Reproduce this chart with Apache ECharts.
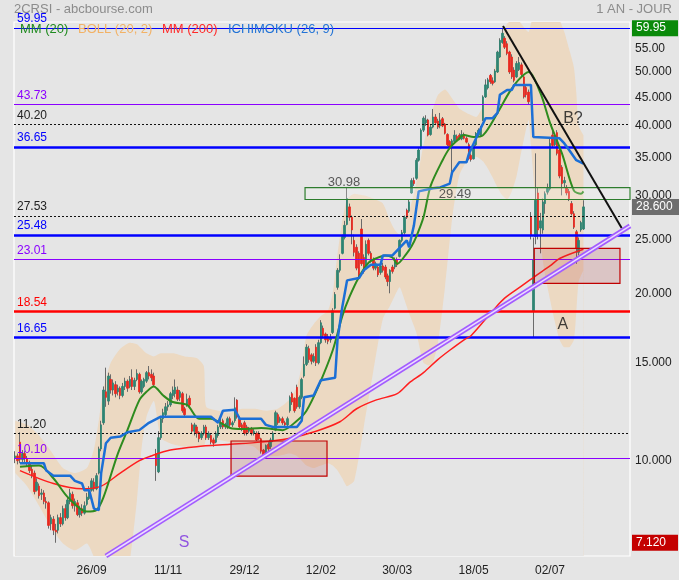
<!DOCTYPE html>
<html><head><meta charset="utf-8">
<script src="https://cdn.jsdelivr.net/npm/echarts@6/dist/echarts.min.js"></script>
<style>html,body{margin:0;padding:0;background:#e5e5e5;}#c{width:679px;height:580px;}</style>
</head><body><div id="c"></div>
<script>
const N = 258;
const tickIdx = [32,64,96,128,160,192,224];
const tickLabels = ['26/09','11/11','29/12','12/02','30/03','18/05','02/07'];

const opens = [
10.1,10.2,10.8,10.05,10.3,10.1,9.9,9.65,9.5,8.85,
9.0,8.7,8.75,8.45,8.4,7.7,7.85,7.5,7.5,7.9,
7.7,8.2,7.9,8.45,8.7,8.3,8.4,8.0,8.2,8.05,
8.35,8.55,8.85,9.15,8.9,9.5,10.5,11.7,13.3,12.8,
14.0,13.4,13.7,13.3,13.5,13.1,13.6,13.9,13.6,14.1,
13.6,14.0,14.3,13.3,13.6,13.9,14.4,14.3,14.2,10.3,
9.55,11.0,11.9,12.1,12.5,12.6,13.1,13.2,13.4,13.0,
13.2,12.4,12.6,12.95,11.6,11.3,11.5,11.25,11.0,11.2,
11.5,11.0,11.1,10.9,10.8,11.1,11.5,11.8,11.5,11.5,
11.9,11.6,11.8,12.85,11.9,11.6,11.7,11.5,11.3,11.4,
11.2,11.2,11.2,10.95,10.45,10.15,10.7,10.6,10.9,11.35,
12.1,11.8,11.9,11.7,11.6,12.3,13.2,12.95,13.55,12.5,
13.0,14.2,14.9,15.9,15.5,15.1,16.0,15.0,16.3,17.3,
16.9,16.7,16.5,17.0,18.8,20.5,22.0,23.6,25.2,26.6,
28.6,27.4,24.9,24.2,23.6,26.1,23.2,22.5,24.9,23.6,
23.0,22.2,22.3,21.8,22.4,22.3,21.5,21.0,22.3,22.3,
23.0,23.3,24.9,25.7,28.2,28.1,30.3,31.9,32.2,34.7,
36.5,39.3,40.5,41.0,38.6,39.8,41.5,40.8,40.0,41.2,
40.3,38.6,37.5,36.8,37.5,38.3,38.5,37.9,38.6,38.0,
37.0,35.4,34.9,37.0,38.5,38.4,41.0,45.1,46.8,49.3,
48.2,48.0,50.0,53.2,56.5,57.5,56.2,54.3,53.2,50.4,
49.0,50.5,51.5,49.0,46.9,46.0,27.4,18.6,25.3,30.3,
26.2,26.0,29.0,30.4,30.8,38.5,37.0,38.9,36.2,33.7,
31.6,31.0,30.5,29.0,27.8,25.8,23.7,26.0,26.1
];
const closes = [
10.2,10.0,10.05,10.3,10.1,9.9,9.6,9.4,8.8,9.15,
8.65,8.75,8.45,8.4,7.65,7.9,7.5,7.45,7.9,7.7,
8.2,7.9,8.5,8.75,8.3,8.45,8.0,8.2,8.05,8.3,
8.6,8.85,9.2,8.9,9.4,10.5,11.6,13.4,13.0,14.2,
13.4,13.8,13.2,13.5,13.1,13.6,13.9,13.5,14.0,13.6,
13.95,14.35,13.3,13.9,14.0,14.4,14.2,14.1,13.7,9.8,
11.0,11.9,12.2,12.5,12.6,13.2,13.4,13.55,12.9,13.3,
12.3,12.1,12.9,12.6,11.3,11.6,11.2,10.95,11.2,11.5,
11.0,11.2,10.8,10.75,11.2,11.5,11.7,11.5,11.6,11.9,
11.6,11.7,12.45,12.0,11.5,11.4,11.2,11.25,11.4,11.2,
11.3,10.9,10.95,10.4,10.15,10.65,10.5,10.9,11.2,12.2,
11.7,11.9,11.7,11.6,11.9,13.0,12.75,12.3,12.5,13.0,
14.0,14.9,16.0,15.2,15.1,15.4,15.0,16.3,17.7,16.8,
16.5,16.4,16.6,18.6,19.9,22.0,23.0,25.3,26.5,29.6,
27.4,26.0,23.7,22.2,21.5,22.6,21.9,24.5,23.6,22.9,
22.2,22.6,21.6,22.4,22.0,21.4,21.0,22.0,21.9,23.0,
22.5,24.9,25.7,27.4,27.4,29.2,31.9,31.5,34.7,36.2,
39.3,41.3,41.0,38.5,39.8,41.5,40.5,39.8,41.0,40.0,
38.8,37.0,36.7,37.6,38.5,37.7,37.9,38.6,38.0,37.4,
34.9,34.8,37.0,38.8,39.3,39.8,45.1,47.4,48.4,48.0,
47.7,50.2,54.3,57.0,58.7,55.4,54.0,50.0,49.0,48.3,
51.8,52.0,49.5,45.1,45.5,44.2,25.4,23.0,29.4,26.0,
27.0,29.2,30.2,30.9,37.2,36.9,38.3,35.7,32.5,31.5,
31.9,30.3,29.6,27.8,26.3,24.1,24.9,26.8,28.6
];
const lows = [
9.9,9.85,9.9,9.95,9.9,9.75,9.5,9.3,8.7,8.8,
8.55,8.5,8.35,8.2,7.55,7.5,7.35,7.12,7.4,7.6,
7.65,7.8,7.85,8.35,8.2,8.1,7.95,7.9,7.95,8.0,
8.3,8.5,8.8,8.8,8.85,9.45,10.4,11.6,12.5,12.6,
13.2,13.1,13.0,13.1,12.9,13.0,13.4,13.3,13.5,13.4,
13.4,13.9,13.2,13.2,13.5,13.8,14.0,13.9,13.6,9.2,
9.5,10.9,11.7,12.0,12.3,12.5,12.9,13.0,12.8,12.8,
12.2,12.0,12.5,12.5,11.2,11.1,11.0,10.8,10.9,11.1,
10.9,10.9,10.7,10.6,10.75,11.0,11.4,11.4,11.4,11.4,
11.5,11.5,11.7,11.9,11.4,11.3,11.1,11.1,11.2,11.1,
11.1,10.85,10.9,10.3,10.1,10.1,10.4,10.5,10.8,11.3,
11.6,11.7,11.6,11.5,11.5,12.2,12.6,12.2,12.4,12.4,
12.9,14.1,14.8,15.0,14.9,15.0,14.8,14.9,16.2,16.6,
16.3,16.2,16.3,16.9,18.7,20.3,21.8,23.5,25.0,26.5,
27.0,24.5,23.3,22.0,21.3,22.4,21.7,22.3,23.4,22.7,
22.0,22.0,21.4,21.6,21.8,21.2,20.6,20.0,21.7,22.1,
22.3,23.2,24.7,25.5,27.2,27.9,30.2,31.2,32.0,34.5,
36.3,39.0,40.0,38.3,38.4,39.6,40.2,39.5,39.6,39.8,
38.6,36.8,36.4,32.9,37.3,37.5,37.7,37.7,37.8,37.2,
34.7,34.5,34.8,36.8,38.2,38.2,40.8,44.9,46.5,47.6,
47.3,47.8,49.8,53.0,56.2,55.0,53.6,49.6,48.6,47.9,
48.8,50.2,49.0,44.8,45.0,43.8,25.0,16.65,24.5,25.0,
23.6,25.6,27.8,30.1,30.6,36.5,36.8,35.4,32.2,30.0,
31.0,30.0,29.3,27.6,26.1,22.6,23.4,25.8,26.0
];
const highs = [
10.4,10.3,11.25,10.45,10.4,10.2,10.0,9.8,9.6,9.3,
9.1,8.9,8.85,8.6,8.45,8.0,7.95,7.7,8.0,8.05,
8.3,8.35,8.6,8.9,8.8,8.55,8.5,8.3,8.35,8.45,
8.75,9.0,9.3,9.3,9.5,10.6,11.8,13.6,14.7,14.4,
14.3,14.0,13.9,13.7,13.6,13.8,14.1,14.0,14.2,14.6,
14.1,14.6,14.4,14.0,14.1,14.5,14.8,14.6,14.4,10.5,
11.3,12.0,12.4,12.7,12.8,13.3,13.6,14.0,13.6,13.4,
13.3,12.5,13.2,13.1,11.7,11.7,11.6,11.3,11.3,11.6,
11.6,11.3,11.2,11.0,11.3,11.6,11.9,11.9,11.7,12.0,
12.0,11.8,13.0,12.9,12.0,11.7,11.8,11.6,11.5,11.5,
11.4,11.3,11.3,11.0,10.5,10.7,10.8,11.0,11.3,12.3,
12.2,12.0,12.0,11.8,12.0,13.1,13.3,13.0,13.7,13.1,
14.1,15.4,16.2,16.1,15.6,15.6,16.2,16.5,17.9,17.5,
17.0,16.9,16.9,18.8,20.1,22.2,23.5,25.5,27.0,30.98,
29.0,27.6,25.5,24.5,23.8,27.2,23.5,24.9,25.1,23.8,
23.2,22.8,22.5,22.6,22.7,22.5,21.7,22.1,22.5,23.2,
23.2,25.0,26.0,27.6,28.4,29.5,32.2,32.3,35.0,36.5,
39.6,41.6,41.8,41.2,40.2,42.9,42.0,41.2,42.2,41.5,
40.5,38.8,37.7,37.9,39.3,38.6,38.8,39.3,38.9,38.3,
37.3,35.7,37.2,39.0,39.6,40.0,45.4,48.5,48.8,49.6,
48.9,50.6,54.6,57.5,59.95,58.0,56.8,54.6,53.8,51.0,
52.3,53.2,52.0,49.5,47.5,46.5,28.0,25.2,35.7,31.0,
27.9,29.6,30.5,31.5,38.0,39.3,38.8,39.3,36.5,34.0,
32.4,31.3,30.8,29.3,28.1,26.0,25.2,27.0,29.4
];

const mm20 = [[2,9.75],[10,9.8],[16,9.3],[22,8.6],[30,8.1],[34,8.15],[37,8.6],[43,10.3],[47,11.35],[52,12.85],[55,13.3],[58,13.6],[62,13.1],[66,12.75],[72,12.6],[77,11.9],[82,11.9],[86,11.7],[90,11.45],[95,11.4],[103,11.45],[112,11.35],[118,11.8],[122,12.3],[127,13.6],[133,15.8],[137,18.2],[140,19.7],[144,21.4],[148,22.7],[151,23.1],[155,23.4],[158,23.2],[160,22.6],[164,23.6],[166,24.3],[168,25.3],[171,27.4],[174,31.2],[179,34.7],[182,36.5],[185,37.6],[188,38.5],[192,38.2],[196,38.5],[202,42.2],[207,46.0],[211,48.5],[215,50.0],[220,45.8],[224,40.5],[229,35.7],[234,30.6],[237,30.2],[238,30.5]];
const mm200 = [[2,9.6],[16,9.1],[28,8.9],[36,9.0],[44,9.5],[52,10.0],[57,10.2],[65,10.45],[76,10.6],[90,10.7],[103,10.8],[114,10.95],[126,11.3],[136,11.75],[143,12.4],[151,12.85],[160,13.2],[165,13.8],[171,14.4],[177,15.2],[182,15.8],[188,16.5],[191,16.8],[200,18.6],[205,19.6],[212,20.6],[218,21.5],[224,22.4],[228,23.1],[238,24.0]];
const kijun = [[2,9.9],[12,9.9],[13,9.6],[16,9.4],[23,9.4],[25,9.2],[28,9.1],[29,8.85],[31,8.85],[33,8.2],[35,8.15],[36,9.5],[38,10.75],[40,11.0],[44,11.05],[47,11.25],[52,11.35],[56,11.7],[61,12.0],[82,12.0],[85,11.7],[87,12.3],[92,12.35],[94,11.9],[103,11.9],[105,11.6],[108,11.5],[118,11.5],[120,11.8],[121,13.0],[125,13.1],[128,13.95],[134,14.1],[135,16.5],[137,18.9],[139,21.1],[144,21.3],[146,22.0],[149,22.5],[153,22.5],[154,23.4],[158,23.4],[160,23.9],[164,24.9],[165,24.2],[167,26.5],[169,30.5],[175,30.9],[178,31.0],[182,31.5],[183,33.0],[186,34.4],[189,34.4],[190,35.6],[194,38.8],[197,41.3],[200,41.3],[202,42.2],[203,45.5],[206,46.4],[208,46.4],[209,47.4],[216,47.4],[217,38.2],[228,38.0],[230,37.2],[232,36.2],[235,34.7],[238,34.2]];
const bollUpper = [[0,11.8],[5,11.6],[10,11.1],[15,10.4],[20,9.7],[25,9.5],[30,9.7],[33,10.5],[35,11.8],[37,13.5],[40,15.0],[44,15.9],[48,16.3],[51,16.2],[53,15.9],[55,15.6],[58,15.4],[61,15.6],[66,15.6],[71,15.4],[76,15.3],[79,14.8],[80,12.5],[85,12.3],[90,12.2],[95,12.4],[100,12.4],[105,12.3],[110,12.4],[115,12.9],[118,13.6],[120,14.8],[122,16.8],[125,17.6],[128,18.2],[131,18.6],[133,20.0],[135,23.5],[137,27.0],[139,29.5],[142,30.2],[146,30.0],[150,29.6],[154,29.0],[157,27.0],[159,26.0],[161,25.5],[163,26.5],[165,28.0],[168,31.5],[171,37.0],[174,41.6],[177,45.4],[180,46.5],[183,44.8],[186,43.0],[190,42.0],[193,41.5],[196,43.5],[198,46.0],[200,49.5],[202,53.0],[204,58.0],[206,61.0],[208,62.0],[210,62.5],[212,61.0],[214,59.5],[215,59.0],[216,61.0],[218,65.0],[220,67.0],[222,67.0],[224,66.0],[226,64.0],[228,62.0],[230,59.0],[232,55.0],[234,51.0],[235,46.0],[236,40.0],[238,38.5]];
const bollLower = [[0,9.5],[5,9.0],[10,8.3],[15,7.6],[20,7.1],[25,6.9],[30,7.1],[33,6.7],[35,6.2],[37,5.8],[40,5.5],[44,5.6],[48,6.6],[51,8.5],[53,10.6],[55,12.0],[58,12.8],[61,11.0],[66,10.7],[71,10.6],[76,10.6],[79,10.6],[80,10.9],[85,10.9],[90,10.8],[95,10.7],[100,10.6],[105,10.2],[110,10.2],[115,10.3],[118,10.2],[120,10.0],[122,9.8],[125,9.7],[128,9.8],[131,9.9],[133,9.8],[135,9.6],[137,9.3],[139,9.0],[142,9.2],[146,11.5],[150,14.5],[154,18.0],[157,19.0],[159,19.8],[161,20.5],[163,19.5],[165,18.4],[168,17.0],[171,15.0],[174,14.8],[177,16.2],[180,20.5],[183,27.2],[186,32.6],[190,35.0],[193,35.2],[196,34.5],[198,33.5],[200,32.3],[202,31.0],[204,30.0],[206,29.5],[208,30.5],[210,32.5],[212,36.0],[214,39.5],[215,41.0],[216,37.0],[218,29.0],[220,24.5],[222,21.5],[224,19.5],[226,17.8],[228,16.5],[230,16.0],[232,16.0],[234,16.5],[235,18.5],[236,21.0],[238,22.0]];

const levelValues = [59.95,43.73,40.20,36.65,27.53,25.48,23.01,18.54,16.65,11.20,10.10];
const levelKinds  = ['blueThin','purple','dotted','blue','dotted','blue','purple','red','blue','dotted','purple'];
const rightTicks = [55,50,45,40,35,30,25,20,15,10];
const rightTickText = ['55.00','50.000','45.000','40.000','35.000','30.000','25.000','20.000','15.000','10.000'];
const priceTags = [59.95,28.6,7.12];
const priceTagText = ['59.95','28.600','7.120'];
const rangeBox = {start:121.4, end:257.5, top:30.98, bottom:29.49};
const zones = [[90.4,130.6,10.85,9.38],[217.4,253.3,24.08,20.84]];
const resistance = [[204.3,60.5],[254,26.2]];
const support = [[38,6.74],[257.5,26.43]];
const notes = [['B?',233.6,41.3],['A',229.4,17.54],['S',70.7,7.11],['30.98',137.7,31.7],['29.49',184.2,30.17]];

const FONT = 'Liberation Sans, Arial, sans-serif';
const cats = Array.from({length:N},(_,i)=>'c'+i);
const labelMap = {}; tickIdx.forEach((t,k)=>labelMap[t]=tickLabels[k]);

const kindStyle = {
  blueThin:{lc:'#0000ff',w:1,t:'solid',tc:'#0000ff'},
  blue:{lc:'#0000ff',w:2.5,t:'solid',tc:'#0000ff'},
  purple:{lc:'#8a00ff',w:1.2,t:'solid',tc:'#8a00ff'},
  dotted:{lc:'#111111',w:1,t:[2,2],tc:'#222222'},
  red:{lc:'#ff0000',w:2.5,t:'solid',tc:'#ff0000'}
};
const levelLines = levelValues.map((v,k)=>{const s=kindStyle[levelKinds[k]];return {
  yAxis:v, lineStyle:{color:s.lc,width:s.w,type:s.t},
  label:{show:true,position:'insideStartTop',formatter:v.toFixed(2),color:s.tc,fontSize:12,fontFamily:FONT,distance:3}
};});
const tickLines = rightTicks.map((v,k)=>({yAxis:v,lineStyle:{color:'rgba(0,0,0,0)',width:0},
  label:{show:true,position:'end',formatter:rightTickText[k],color:'#222',fontSize:12,fontFamily:FONT,distance:5}}));
const tagColors = ['#0a8a0a','#6e6e6e','#c40000'];
const tagLines = priceTags.map((v,k)=>({yAxis:v,lineStyle:{color:'rgba(0,0,0,0)',width:0},
  label:{show:true,position:'end',formatter:priceTagText[k],color:'#fff',fontSize:12,fontFamily:FONT,distance:2,
    backgroundColor:tagColors[k],padding:[2,12,2,4]}}));

const candleData = opens.map((o,i)=>[o,closes[i],lows[i],highs[i]]);
const bodyData = opens.map((o,i)=>[o,closes[i],Math.min(o,closes[i]),Math.max(o,closes[i])]);

const zoneAreas = zones.map(z=>[{coord:[z[0],z[2]],itemStyle:{color:'rgba(170,40,40,0.17)',borderColor:'#c00000',borderWidth:1.2}},{coord:[z[1],z[3]]}]);
zoneAreas.push([{coord:[rangeBox.start,rangeBox.top],itemStyle:{color:'rgba(255,255,255,0.22)',borderColor:'#2e7d2e',borderWidth:1.2}},{coord:[rangeBox.end,rangeBox.bottom]}]);

const noteColors = {'B?':'#111','A':'#111','S':'#7a2ee0','30.98':'#333','29.49':'#333'};
const noteSizes = {'B?':16,'A':16,'S':16,'30.98':13,'29.49':13};

const chart = echarts.init(document.getElementById('c'));
chart.setOption({
  animation:false,
  backgroundColor:'#e5e5e5',
  textStyle:{fontFamily:FONT},
  grid:{left:14,right:49,top:22,bottom:24,show:true,borderColor:'#ffffff',borderWidth:1.2,backgroundColor:'transparent'},
  xAxis:[
    {type:'category',data:cats,boundaryGap:true,axisLine:{show:false},axisTick:{show:false},splitLine:{show:false},
     axisLabel:{interval:0,formatter:(v,i)=>labelMap[i]||'',color:'#222',fontSize:12,margin:9,fontFamily:FONT}},
    {type:'value',min:-0.5,max:N-0.5,show:false}
  ],
  yAxis:{type:'log',logBase:10,min:6.74,max:61.5,position:'right',axisLine:{show:false},axisTick:{show:false},axisLabel:{show:false},splitLine:{show:false}},
  graphic:[
    {type:'text',left:14,top:3,style:{text:'2CRSI - abcbourse.com',fill:'#8c8c8c',font:'13px '+FONT}},
    {type:'text',right:7,top:3,style:{text:'1 AN - JOUR',fill:'#8c8c8c',font:'13px '+FONT}},
    {type:'text',left:20,top:23,z:100,style:{text:'MM (20)',fill:'#1f8a1f',font:'13px '+FONT}},
    {type:'text',left:78,top:23,z:100,style:{text:'BOLL (20, 2)',fill:'#f2b266',font:'13px '+FONT}},
    {type:'text',left:162,top:23,z:100,style:{text:'MM (200)',fill:'#ff2a2a',font:'13px '+FONT}},
    {type:'text',left:228,top:23,z:100,style:{text:'ICHIMOKU (26, 9)',fill:'#2273d6',font:'13px '+FONT}}
  ],
  series:[
    {type:'line',xAxisIndex:1,data:bollUpper,smooth:0.2,symbol:'none',silent:true,z:1,lineStyle:{width:0},areaStyle:{color:'#ecd9c2',opacity:1,origin:'start'}},
    {type:'line',xAxisIndex:1,data:bollLower,smooth:0.2,symbol:'none',silent:true,z:1,lineStyle:{width:0},areaStyle:{color:'#e5e5e5',opacity:1,origin:'start'}},
    {type:'candlestick',xAxisIndex:0,data:candleData,barWidth:1,silent:true,z:2,
     itemStyle:{color:'#707070',color0:'#707070',borderColor:'#6a6a6a',borderColor0:'#6a6a6a',borderWidth:1}},
    {type:'candlestick',xAxisIndex:0,data:bodyData,barWidth:2,silent:true,z:3,
     itemStyle:{color:'#2f8472',color0:'#e8291f',borderColor:'#2f8472',borderColor0:'#e8291f',borderWidth:0.8}},
    {type:'line',xAxisIndex:1,data:[],silent:true,z:4,
     markLine:{silent:true,symbol:'none',animation:false,z:4,data:levelLines.concat(tickLines,tagLines)}},
    {type:'line',xAxisIndex:1,data:mm200,smooth:0.3,symbol:'none',silent:true,z:5,lineStyle:{color:'#ff1e1e',width:1.5}},
    {type:'line',xAxisIndex:1,data:mm20,smooth:0.3,symbol:'none',silent:true,z:5,lineStyle:{color:'#2e8b1e',width:2}},
    {type:'line',xAxisIndex:1,data:kijun,symbol:'none',silent:true,z:5,lineStyle:{color:'#1c6fd6',width:2.5}},
    {type:'line',xAxisIndex:1,data:[],silent:true,z:6,markArea:{silent:true,z:6,data:zoneAreas}},
    {type:'line',xAxisIndex:1,data:support,symbol:'none',silent:true,z:7,lineStyle:{color:'#a35cff',width:5}},
    {type:'line',xAxisIndex:1,data:support,symbol:'none',silent:true,z:7,lineStyle:{color:'#eadcff',width:1.5}},
    {type:'line',xAxisIndex:1,data:resistance,symbol:'none',silent:true,z:7,lineStyle:{color:'#111',width:2}},
    {type:'scatter',xAxisIndex:1,symbolSize:1,silent:true,z:8,itemStyle:{color:'rgba(0,0,0,0)'},
     data:notes.map(n=>({name:n[0],value:[n[1],n[2]],label:{show:true,position:'inside',formatter:'{b}',color:noteColors[n[0]],fontSize:noteSizes[n[0]],fontFamily:FONT}}))}
  ]
});
</script></body></html>
